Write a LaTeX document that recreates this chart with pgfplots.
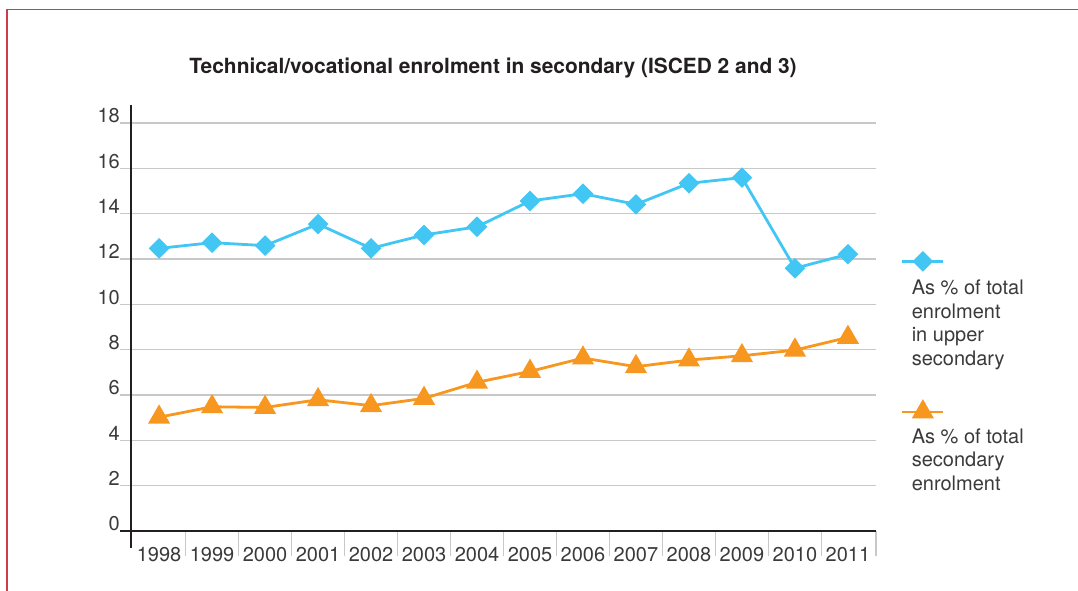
\documentclass[border=0pt]{standalone}
\usepackage{fontspec}
\setmainfont{TeX Gyre Heros}
\usepackage{pgfplots}
\pgfplotsset{compat=1.18}

\definecolor{upper}{HTML}{42C6F3}
\definecolor{total}{HTML}{F7971F}
\definecolor{gridgray}{HTML}{C8C8C8}
\definecolor{axisblack}{HTML}{231F20}
\definecolor{labelgray}{HTML}{3A3A3A}
\definecolor{framered}{HTML}{CC3D48}

% legend images sit above their text, as in the reference
\pgfplotsset{
    legabove/.style={legend image code/.code={\path (0pt,0pt);
        \draw[overlay, mark repeat=2, mark phase=2, ##1]
            plot coordinates {(-6pt,#1) (14.5pt,#1) (35pt,#1)};}},
}

\begin{document}
\begin{tikzpicture}[x=1pt,y=1pt]
\useasboundingbox (0,0) rectangle (1078,591);
% frame round the figure (runs off the right and bottom edges)
\draw[framered, line width=1.6pt] (7,-20) -- (7,581.5) -- (1100,581.5);

\begin{axis}[
    at={(131pt,60pt)}, anchor=south west,
    scale only axis,
    width=745pt, height=408pt,
    xmin=-0.53, xmax=13.53,
    ymin=0, ymax=18,
    clip=false,
    axis line style={draw=none},
    xtick={0,...,13},
    xticklabels={1998,1999,2000,2001,2002,2003,2004,2005,2006,2007,2008,2009,2010,2011},
    minor xtick={0.5,1.5,2.5,3.5,4.5,5.5,6.5,7.5,8.5,9.5,10.5,11.5,12.5,13.53},
    ytick={0,2,...,18},
    xtick pos=bottom, ytick pos=left,
    tick align=outside,
    major tick length=11pt,
    minor tick length=25pt,
    major x tick style={draw=none},
    minor x tick style={gridgray, line width=1.3pt},
    major y tick style={gridgray, line width=1.3pt},
    ymajorgrids,
    grid style={gridgray, line width=1.3pt},
    /pgf/number format/assume math mode=true,
    tick label style={font=\fontsize{20}{24}\selectfont, text=labelgray},
    yticklabel style={anchor=base east, inner sep=0pt},
    xticklabel style={anchor=base, inner sep=0pt, yshift=-20pt},
    title={Technical/vocational enrolment in secondary (ISCED 2 and 3)},
    title style={at={(0.486,1.1054)}, anchor=base, inner sep=0pt,
        font=\bfseries\fontsize{20.9}{24}\selectfont, text=axisblack},
    legend style={at={(1.0416,0.624)}, anchor=north west,
        draw=none, fill=none, inner sep=0pt, outer sep=0pt,
        column sep=0pt, row sep=56pt,
        font=\fontsize{20}{23.7}\selectfont, text=labelgray,
        cells={anchor=north west, align=left, inner sep=0pt}},
]

% axis lines, running a little past the plot area as in the reference
\draw[axisblack, line width=2.7pt] (axis cs:-0.53,-0.75) -- (axis cs:-0.53,18.8);
\draw[axisblack, line width=2.7pt] (axis cs:-0.74,0) -- (axis cs:13.53,0);

\addplot[upper, line width=2.8pt, mark=square*, mark size=5.9pt,
    mark options={rotate=45, solid}, legabove=16.4pt]
coordinates {
    (0,12.47) (1,12.72) (2,12.59) (3,13.54) (4,12.47) (5,13.06) (6,13.42)
    (7,14.56) (8,14.88) (9,14.41) (10,15.34) (11,15.59) (12,11.59) (13,12.21)
};
\addlegendentry{As \% of total\\enrolment\\in upper\\secondary}

\addplot[total, line width=2.8pt, mark=triangle*, mark size=10pt,
    mark options={solid}, legabove=14.5pt]
coordinates {
    (0,5.02) (1,5.48) (2,5.45) (3,5.79) (4,5.53) (5,5.85) (6,6.56)
    (7,7.04) (8,7.63) (9,7.25) (10,7.54) (11,7.73) (12,7.98) (13,8.54)
};
\addlegendentry{As \% of total\\secondary\\enrolment}

\end{axis}
\end{tikzpicture}
\end{document}
